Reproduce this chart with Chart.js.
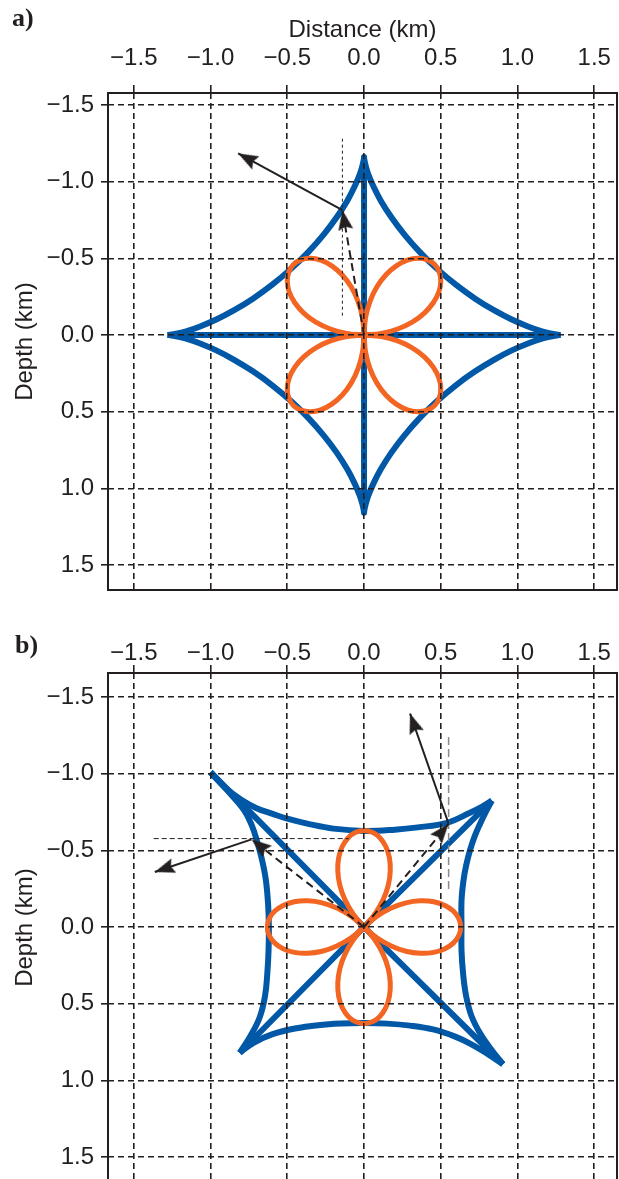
<!DOCTYPE html>
<html>
<head>
<meta charset="utf-8">
<script src="https://cdn.jsdelivr.net/npm/chart.js@4.4.1/dist/chart.umd.min.js"></script>
<style>
  html, body { margin: 0; padding: 0; background: #fff; overflow: hidden; }
  body { width: 619px; height: 1179px; position: relative; }
  canvas { position: absolute; left: 0; }
  #chartA { top: 0; }
  #chartB { top: 600px; }
  .tag { position: absolute; font: bold 26px "Liberation Serif", "Times New Roman", serif; line-height: 1; color: #231f20; }
</style>
</head>
<body>
<canvas id="chartA" width="619" height="600"></canvas>
<canvas id="chartB" width="619" height="600"></canvas>
<div class="tag" style="left:12px; top:5px">a)</div>
<div class="tag" style="left:15px; top:632px">b)</div>
<script>
// axis ticks (km)
const distanceTicks = [-1.5, -1.0, -0.5, 0.0, 0.5, 1.0, 1.5];
const depthTicks = [-1.5, -1.0, -0.5, 0.0, 0.5, 1.0, 1.5];

// ---- panel a: wavefront (blue), four arcs between cusps + the two straight branches
const aBlueUR = [[1.280,0],[1.266,-0.001],[1.225,-0.008],[1.159,-0.024],[1.072,-0.054],[0.966,-0.099],[0.849,-0.160],[0.724,-0.237],[0.598,-0.328],[0.476,-0.431],[0.362,-0.542],[0.262,-0.656],[0.177,-0.769],[0.109,-0.876],[0.060,-0.971],[0.027,-1.050],[0.009,-1.110],[0.001,-1.147],[0,-1.160]];
const aBlueUL = [[-1.280,0],[-1.266,-0.001],[-1.225,-0.008],[-1.159,-0.024],[-1.072,-0.054],[-0.966,-0.099],[-0.849,-0.160],[-0.724,-0.237],[-0.598,-0.328],[-0.476,-0.431],[-0.362,-0.542],[-0.262,-0.656],[-0.177,-0.769],[-0.109,-0.876],[-0.060,-0.971],[-0.027,-1.050],[-0.009,-1.110],[-0.001,-1.147],[0,-1.160]];
const aBlueLL = [[-1.280,0],[-1.266,0.001],[-1.225,0.008],[-1.159,0.024],[-1.072,0.054],[-0.966,0.099],[-0.849,0.160],[-0.724,0.237],[-0.598,0.328],[-0.476,0.431],[-0.362,0.542],[-0.262,0.656],[-0.177,0.769],[-0.109,0.876],[-0.060,0.971],[-0.027,1.050],[-0.009,1.110],[-0.001,1.147],[0,1.160]];
const aBlueLR = [[1.280,0],[1.266,0.001],[1.225,0.008],[1.159,0.024],[1.072,0.054],[0.966,0.099],[0.849,0.160],[0.724,0.237],[0.598,0.328],[0.476,0.431],[0.362,0.542],[0.262,0.656],[0.177,0.769],[0.109,0.876],[0.060,0.971],[0.027,1.050],[0.009,1.110],[0.001,1.147],[0,1.160]];
const aBlueHoriz = [[-1.28,0],[1.28,0]];
const aBlueVert = [[0,-1.16],[0,1.16]];

// panel a: radiation pattern (orange), one petal per quadrant
const aRoseLR = [[0,0],[0.113,0.010],[0.219,0.039],[0.314,0.084],[0.393,0.143],[0.451,0.210],[0.488,0.282],[0.500,0.350],[0.490,0.412],[0.460,0.460],[0.412,0.490],[0.350,0.500],[0.282,0.488],[0.210,0.451],[0.143,0.393],[0.084,0.314],[0.039,0.219],[0.010,0.113],[0,0]];
const aRoseUR = [[0,0],[0.113,-0.010],[0.219,-0.039],[0.314,-0.084],[0.393,-0.143],[0.451,-0.210],[0.488,-0.282],[0.500,-0.350],[0.490,-0.412],[0.460,-0.460],[0.412,-0.490],[0.350,-0.500],[0.282,-0.488],[0.210,-0.451],[0.143,-0.393],[0.084,-0.314],[0.039,-0.219],[0.010,-0.113],[0,0]];
const aRoseUL = [[0,0],[-0.113,-0.010],[-0.219,-0.039],[-0.314,-0.084],[-0.393,-0.143],[-0.451,-0.210],[-0.488,-0.282],[-0.500,-0.350],[-0.490,-0.412],[-0.460,-0.460],[-0.412,-0.490],[-0.350,-0.500],[-0.282,-0.488],[-0.210,-0.451],[-0.143,-0.393],[-0.084,-0.314],[-0.039,-0.219],[-0.010,-0.113],[0,0]];
const aRoseLL = [[0,0],[-0.113,0.010],[-0.219,0.039],[-0.314,0.084],[-0.393,0.143],[-0.451,0.210],[-0.488,0.282],[-0.500,0.350],[-0.490,0.412],[-0.460,0.460],[-0.412,0.490],[-0.350,0.500],[-0.282,0.488],[-0.210,0.451],[-0.143,0.393],[-0.084,0.314],[-0.039,0.219],[-0.010,0.113],[0,0]];

// panel a: ray + normal arrows and guide
const aRay = [[0,0],[-0.141,-0.815]];
const aNormal = [[-0.141,-0.815],[-0.82,-1.184]];
const aGuide = [[-0.141,-1.28],[-0.141,-0.12]];

// ---- panel b: tilted wavefront (blue)
const bBlueTop = [[-1.00,-1.01],[-0.90,-0.905],[-0.80,-0.83],[-0.70,-0.775],[-0.60,-0.74],[-0.50,-0.707],[-0.35,-0.67],[-0.20,-0.642],[0.00,-0.627],[0.20,-0.635],[0.35,-0.65],[0.54,-0.68],[0.69,-0.745],[0.77,-0.785],[0.833,-0.825]];
const bBlueLeft = [[-1.00,-1.01],[-0.89,-0.89],[-0.78,-0.76],[-0.73,-0.66],[-0.70,-0.57],[-0.665,-0.44],[-0.64,-0.31],[-0.625,-0.15],[-0.62,0.00],[-0.622,0.15],[-0.63,0.30],[-0.645,0.45],[-0.68,0.59],[-0.74,0.71],[-0.81,0.82]];
const bBlueRight = [[0.833,-0.825],[0.79,-0.745],[0.757,-0.676],[0.72,-0.59],[0.69,-0.50],[0.665,-0.40],[0.648,-0.305],[0.635,-0.17],[0.635,0.00],[0.635,0.15],[0.645,0.30],[0.665,0.45],[0.70,0.58],[0.76,0.70],[0.83,0.80],[0.905,0.895]];
const bBlueBottom = [[-0.81,0.82],[-0.72,0.755],[-0.60,0.70],[-0.45,0.662],[-0.30,0.64],[-0.15,0.629],[0.00,0.626],[0.15,0.63],[0.30,0.643],[0.45,0.668],[0.594,0.715],[0.70,0.765],[0.80,0.825],[0.905,0.895]];
const bBlueDiag1 = [[-1.00,-1.01],[0,0],[0.905,0.895]];
const bBlueDiag2 = [[0.833,-0.825],[0,0],[-0.81,0.82]];

// panel b: radiation pattern (orange), petals along the axes
const bRoseRight = [[0,0],[0.084,-0.070],[0.177,-0.124],[0.273,-0.158],[0.367,-0.171],[0.454,-0.165],[0.527,-0.141],[0.583,-0.103],[0.618,-0.054],[0.630,0],[0.618,0.054],[0.583,0.103],[0.527,0.141],[0.454,0.165],[0.367,0.171],[0.273,0.158],[0.177,0.124],[0.084,0.070],[0,0]];
const bRoseLeft = [[0,0],[-0.084,-0.070],[-0.177,-0.124],[-0.273,-0.158],[-0.367,-0.171],[-0.454,-0.165],[-0.527,-0.141],[-0.583,-0.103],[-0.618,-0.054],[-0.630,0],[-0.618,0.054],[-0.583,0.103],[-0.527,0.141],[-0.454,0.165],[-0.367,0.171],[-0.273,0.158],[-0.177,0.124],[-0.084,0.070],[0,0]];
const bRoseTop = [[0,0],[-0.070,-0.084],[-0.124,-0.177],[-0.158,-0.273],[-0.171,-0.367],[-0.165,-0.454],[-0.141,-0.527],[-0.103,-0.583],[-0.054,-0.618],[0,-0.630],[0.054,-0.618],[0.103,-0.583],[0.141,-0.527],[0.165,-0.454],[0.171,-0.367],[0.158,-0.273],[0.124,-0.177],[0.070,-0.084],[0,0]];
const bRoseBottom = [[0,0],[-0.070,0.084],[-0.124,0.177],[-0.158,0.273],[-0.171,0.367],[-0.165,0.454],[-0.141,0.527],[-0.103,0.583],[-0.054,0.618],[0,0.630],[0.054,0.618],[0.103,0.583],[0.141,0.527],[0.165,0.454],[0.171,0.367],[0.158,0.273],[0.124,0.177],[0.070,0.084],[0,0]];

// panel b: rays, normals and guides
const bRayLeft = [[0,0],[-0.733,-0.572]];
const bNormalLeft = [[-0.733,-0.572],[-1.363,-0.359]];
const bRayRight = [[0,0],[0.551,-0.674]];
const bNormalRight = [[0.551,-0.674],[0.30,-1.392]];
const bGuideH = [[-1.37,-0.577],[-0.10,-0.577]];
const bGuideV = [[0.551,-1.24],[0.551,-0.24]];

const INK = '#231f20';
const BLUE = '#0058a6';
const ORANGE = '#f26522';
const FONT = '"Liberation Sans", Arial, Helvetica, sans-serif';

const xy = pts => pts.map(([x, y]) => ({ x, y }));

// arrowhead drawn with its tip at the image centre, pointing up
const arrowHead = document.createElement('canvas');
arrowHead.width = 44;
arrowHead.height = 44;
(function () {
  const g = arrowHead.getContext('2d');
  g.fillStyle = INK;
  g.beginPath();
  g.moveTo(22, 22);
  g.lineTo(14.5, 42);
  g.lineTo(22, 39);
  g.lineTo(29.5, 42);
  g.closePath();
  g.fill();
})();

function curve(pts, color, width, tension) {
  return {
    data: xy(pts),
    showLine: true,
    borderColor: color,
    borderWidth: width,
    tension: tension,
    pointRadius: 0,
    borderCapStyle: 'butt',
    borderJoinStyle: 'round'
  };
}

function guide(pts, color, width, dash) {
  const ds = curve(pts, color, width, 0);
  ds.borderDash = dash;
  return ds;
}

function arrow(pts, dashed) {
  const dx = pts[1][0] - pts[0][0];
  const dy = pts[1][1] - pts[0][1];
  // depth axis is reversed, so a positive dy points down on screen
  const angle = Math.atan2(dx, -dy) * 180 / Math.PI;
  const ds = curve(pts, INK, 2, 0);
  ds.borderDash = dashed ? [8, 5] : [];
  ds.pointRadius = ctx => (ctx.dataIndex === 1 ? 10 : 0);
  ds.pointStyle = ctx => (ctx.dataIndex === 1 ? arrowHead : 'circle');
  ds.pointRotation = angle;
  return ds;
}

const fmt = v => (v < 0 ? '\u2212' : '') + Math.abs(v).toFixed(1);

// outline of the plotting box
const frame = {
  id: 'frame',
  afterDraw(chart) {
    const { ctx, chartArea: a } = chart;
    ctx.save();
    ctx.strokeStyle = INK;
    ctx.lineWidth = 2;
    ctx.strokeRect(a.left, a.top, a.right - a.left, a.bottom - a.top);
    ctx.restore();
  }
};

function gridOpts(len) {
  return { color: INK, lineWidth: 1.6, z: 1, drawTicks: true, tickLength: len, tickColor: INK, tickWidth: 1.6 };
}

function buildChart(id, datasets, cfg) {
  return new Chart(document.getElementById(id), {
    type: 'scatter',
    data: { datasets: datasets },
    plugins: [frame],
    options: {
      responsive: false,
      animation: false,
      events: [],
      layout: { autoPadding: false, padding: { left: 0, top: 0, right: 2, bottom: cfg.padBottom } },
      plugins: { legend: { display: false }, tooltip: { enabled: false } },
      scales: {
        x: {
          type: 'linear',
          position: 'top',
          min: -1.668,
          max: 1.648,
          afterBuildTicks: s => { s.ticks = distanceTicks.map(v => ({ value: v })); },
          afterFit: s => { s.height = cfg.topHeight; s.paddingLeft = 0; s.paddingRight = 0; },
          ticks: { callback: fmt, font: { family: FONT, size: 24, lineHeight: 1 }, color: INK, padding: cfg.tickPad, maxRotation: 0, autoSkip: false },
          grid: gridOpts(8),
          border: { display: false, dash: [6, 4] },
          title: {
            display: !!cfg.xTitle,
            text: cfg.xTitle || '',
            font: { family: FONT, size: 24, lineHeight: 1 },
            color: INK,
            padding: { top: 18, bottom: 0 }
          }
        },
        y: {
          type: 'linear',
          position: 'left',
          reverse: true,
          min: cfg.yMin,
          max: cfg.yMax,
          afterBuildTicks: s => { s.ticks = depthTicks.map(v => ({ value: v })); },
          afterFit: s => { s.width = 108; s.paddingTop = 0; s.paddingBottom = 0; },
          ticks: { callback: fmt, font: { family: FONT, size: 24, lineHeight: 1 }, color: INK, padding: 7, autoSkip: false },
          grid: gridOpts(7),
          border: { display: false, dash: [6, 4] },
          title: {
            display: true,
            text: 'Depth (km)',
            font: { family: FONT, size: 24, lineHeight: 1 },
            color: INK,
            padding: { top: 13, bottom: 0 }
          }
        }
      }
    }
  });
}

// index 0 is drawn last, so arrows go first, wavefronts last
const datasetsA = [
  arrow(aRay, true),
  arrow(aNormal, false),
  guide(aGuide, INK, 1, [3, 3]),
  curve(aRoseUR, ORANGE, 5, 0.4),
  curve(aRoseUL, ORANGE, 5, 0.4),
  curve(aRoseLL, ORANGE, 5, 0.4),
  curve(aRoseLR, ORANGE, 5, 0.4),
  curve(aBlueHoriz, BLUE, 6, 0),
  curve(aBlueVert, BLUE, 6, 0),
  curve(aBlueUR, BLUE, 6, 0.4),
  curve(aBlueUL, BLUE, 6, 0.4),
  curve(aBlueLL, BLUE, 6, 0.4),
  curve(aBlueLR, BLUE, 6, 0.4)
];

const datasetsB = [
  arrow(bRayLeft, true),
  arrow(bNormalLeft, false),
  arrow(bRayRight, true),
  arrow(bNormalRight, false),
  guide(bGuideH, INK, 1, [5, 3]),
  guide(bGuideV, '#8a8a8a', 1.5, [8, 4]),
  curve(bRoseRight, ORANGE, 5, 0.4),
  curve(bRoseLeft, ORANGE, 5, 0.4),
  curve(bRoseTop, ORANGE, 5, 0.4),
  curve(bRoseBottom, ORANGE, 5, 0.4),
  curve(bBlueDiag1, BLUE, 6, 0),
  curve(bBlueDiag2, BLUE, 6, 0),
  curve(bBlueTop, BLUE, 6, 0.4),
  curve(bBlueLeft, BLUE, 6, 0.4),
  curve(bBlueRight, BLUE, 6, 0.4),
  curve(bBlueBottom, BLUE, 6, 0.4)
];

buildChart('chartA', datasetsA, { topHeight: 93, tickPad: 15, padBottom: 10, yMin: -1.578, yMax: 1.663, xTitle: 'Distance (km)' });
buildChart('chartB', datasetsB, { topHeight: 73, tickPad: 0, padBottom: 18, yMin: -1.657, yMax: 1.663, xTitle: '' });
</script>
</body>
</html>
